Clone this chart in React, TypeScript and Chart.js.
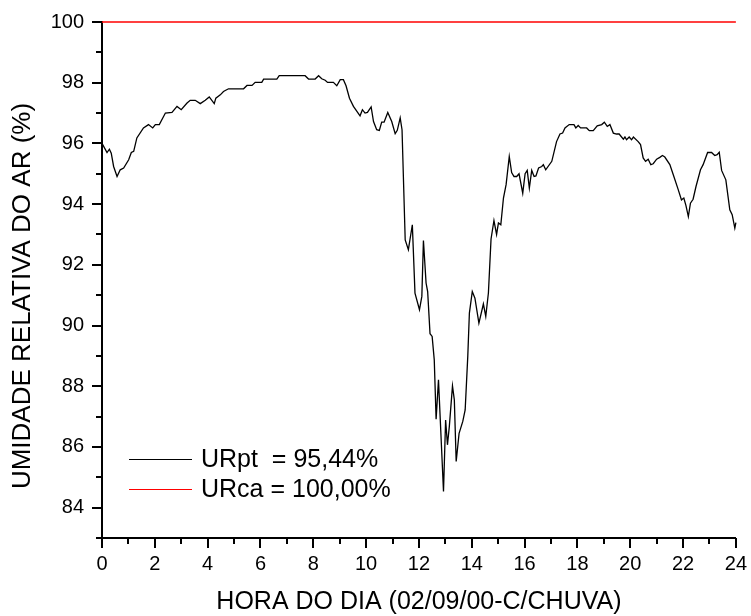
import React, { useEffect, useRef } from 'react';
import { Chart, registerables } from 'chart.js';

Chart.register(...registerables);

// ---- data ----
const hours = [
  0.00, 0.19, 0.28, 0.35, 0.44, 0.57, 0.69, 0.82, 1.01, 1.11,
  1.20, 1.32, 1.57, 1.76, 1.92, 2.02, 2.17, 2.40, 2.65, 2.84,
  3.00, 3.22, 3.34, 3.53, 3.72, 3.91, 4.06, 4.25, 4.31, 4.48,
  4.60, 4.79, 5.36, 5.49, 5.68, 5.80, 6.05, 6.12, 6.62, 6.71,
  7.69, 7.82, 8.07, 8.20, 8.32, 8.45, 8.54, 8.76, 8.89, 9.02,
  9.14, 9.24, 9.37, 9.52, 9.77, 9.86, 9.96, 10.05, 10.19, 10.28,
  10.40, 10.50, 10.59, 10.68, 10.82, 10.97, 11.10, 11.18, 11.29, 11.36,
  11.48, 11.60, 11.75, 11.85, 12.02, 12.11, 12.17, 12.27, 12.33, 12.42,
  12.50, 12.58, 12.65, 12.74, 12.93, 13.01, 13.08, 13.15, 13.27, 13.34,
  13.41, 13.52, 13.66, 13.75, 13.85, 13.91, 14.02, 14.12, 14.27, 14.44,
  14.53, 14.63, 14.73, 14.84, 14.94, 15.01, 15.10, 15.20, 15.30, 15.42,
  15.51, 15.60, 15.70, 15.79, 15.93, 16.02, 16.10, 16.18, 16.27, 16.36,
  16.43, 16.53, 16.65, 16.71, 16.80, 17.03, 17.21, 17.34, 17.44, 17.53,
  17.69, 17.87, 17.94, 18.03, 18.12, 18.35, 18.45, 18.60, 18.75, 18.92,
  19.02, 19.13, 19.23, 19.36, 19.48, 19.58, 19.74, 19.80, 19.86, 19.96,
  20.05, 20.12, 20.30, 20.39, 20.49, 20.58, 20.68, 20.78, 20.87, 21.00,
  21.12, 21.22, 21.31, 21.50, 21.63, 21.82, 21.94, 22.03, 22.11, 22.20,
  22.28, 22.38, 22.49, 22.66, 22.76, 22.93, 23.08, 23.20, 23.29, 23.37,
  23.46, 23.62, 23.77, 23.86, 23.96, 24.00,
];

const urpt = [
  96.00, 95.70, 95.81, 95.68, 95.24, 94.91, 95.13, 95.19, 95.46, 95.70,
  95.74, 96.18, 96.51, 96.62, 96.51, 96.62, 96.62, 97.00, 97.02, 97.22,
  97.11, 97.33, 97.42, 97.42, 97.31, 97.42, 97.53, 97.31, 97.49, 97.60,
  97.71, 97.80, 97.80, 97.91, 97.91, 98.01, 98.01, 98.12, 98.12, 98.23,
  98.23, 98.12, 98.12, 98.23, 98.13, 98.08, 98.01, 98.01, 97.90, 98.10,
  98.10, 97.90, 97.49, 97.22, 96.91, 97.11, 97.00, 97.02, 97.20, 96.72,
  96.45, 96.43, 96.70, 96.70, 97.02, 96.72, 96.32, 96.43, 96.84, 96.45,
  92.82, 92.50, 93.32, 91.07, 90.52, 90.96, 92.80, 91.40, 91.12, 89.73,
  89.64, 88.87, 86.91, 88.21, 84.53, 86.89, 86.07, 86.67, 88.01, 87.55,
  85.52, 86.45, 86.84, 87.22, 89.00, 90.41, 91.12, 90.90, 90.08, 90.71,
  90.30, 91.07, 92.85, 93.46, 93.00, 93.38, 93.32, 94.20, 94.64, 95.57,
  95.04, 94.91, 94.91, 95.00, 94.36, 95.00, 95.11, 94.53, 95.11, 94.91,
  94.93, 95.19, 95.24, 95.30, 95.13, 95.41, 96.06, 96.31, 96.34, 96.51,
  96.62, 96.62, 96.51, 96.59, 96.51, 96.51, 96.42, 96.42, 96.58, 96.62,
  96.70, 96.56, 96.62, 96.34, 96.31, 96.31, 96.14, 96.21, 96.12, 96.21,
  96.12, 96.21, 96.06, 95.96, 95.52, 95.41, 95.48, 95.30, 95.33, 95.48,
  95.54, 95.60, 95.55, 95.30, 94.97, 94.47, 94.14, 94.20, 93.95, 93.59,
  94.03, 94.16, 94.58, 95.13, 95.30, 95.70, 95.70, 95.60, 95.63, 95.71,
  95.11, 94.80, 93.81, 93.65, 93.21, 93.39,
];

const urcaHours = [0, 24];
const urca = [100, 100];

const seriesLabels = ['URpt  = 95,44%', 'URca = 100,00%'];
const seriesColors = ['#000000', '#ff0000'];

const xTitle = 'HORA DO DIA (02/09/00-C/CHUVA)';
const yTitle = 'UMIDADE RELATIVA DO AR (%)';

const xRange = [0, 24];
const yRange = [83, 100];

const FONT = '"Liberation Sans", Arial, Helvetica, sans-serif';

const decorPlugin = {
  id: 'decor',
  afterDraw(chart: any) {
    const ctx = chart.ctx;
    const { left, bottom } = chart.chartArea;
    const xs = chart.scales.x;
    const ys = chart.scales.y;
    ctx.save();
    ctx.strokeStyle = '#000';
    ctx.lineWidth = 2;
    // y ticks (major on even values, minor on odd)
    for (const t of ys.ticks) {
      const p = Math.round(ys.getPixelForValue(t.value));
      const len = t.value % 2 === 0 ? 10 : 6;
      ctx.beginPath();
      ctx.moveTo(left - len, p);
      ctx.lineTo(left, p);
      ctx.stroke();
    }
    // x ticks
    for (const t of xs.ticks) {
      const p = Math.round(xs.getPixelForValue(t.value));
      const len = t.value % 2 === 0 ? 10 : 6;
      ctx.beginPath();
      ctx.moveTo(p, bottom);
      ctx.lineTo(p, bottom + len);
      ctx.stroke();
    }
    // y title
    ctx.fillStyle = '#000';
    ctx.font = `26px ${FONT}`;
    ctx.textAlign = 'center';
    ctx.textBaseline = 'middle';
    ctx.save();
    ctx.translate(22.5, 296);
    ctx.rotate(-Math.PI / 2);
    ctx.fillText(yTitle, 0, 0);
    ctx.restore();
    // legend (inside plot, lower left)
    const lx0 = 129;
    const lx1 = 192;
    const ly = [459, 489];
    ctx.font = `25px ${FONT}`;
    ctx.textAlign = 'left';
    chart.data.datasets.forEach((ds: any, i: number) => {
      ctx.strokeStyle = ds.borderColor;
      ctx.lineWidth = 1.2;
      ctx.beginPath();
      ctx.moveTo(lx0, ly[i] + 0.5);
      ctx.lineTo(lx1, ly[i] + 0.5);
      ctx.stroke();
      ctx.fillStyle = '#000';
      ctx.fillText(ds.label, 201, ly[i] + 1);
    });
    ctx.restore();
  },
};

export default function App() {
  const ref = useRef<HTMLCanvasElement>(null);
  useEffect(() => {
    if (!ref.current) return;
    const chart = new Chart(ref.current, {
      type: 'line',
      data: {
        datasets: [
          {
            label: seriesLabels[0],
            data: hours.map((h, i) => ({ x: h, y: urpt[i] })),
            borderColor: seriesColors[0],
            backgroundColor: seriesColors[0],
            borderWidth: 1.3,
            pointRadius: 0,
            tension: 0,
            fill: false,
            clip: false as any,
          },
          {
            label: seriesLabels[1],
            data: urcaHours.map((h, i) => ({ x: h, y: urca[i] })),
            borderColor: seriesColors[1],
            backgroundColor: seriesColors[1],
            borderWidth: 1.5,
            pointRadius: 0,
            tension: 0,
            fill: false,
            clip: false as any,
          },
        ],
      },
      options: {
        responsive: false,
        animation: false,
        events: [],
        layout: { padding: { left: 0, top: 22, right: 15, bottom: 0 } },
        plugins: {
          legend: { display: false },
          tooltip: { enabled: false },
          title: { display: false },
        },
        scales: {
          x: {
            type: 'linear',
            min: xRange[0],
            max: xRange[1],
            grid: {
              display: true,
              drawOnChartArea: false,
              drawTicks: true,
              tickLength: 10,
              tickColor: 'rgba(0,0,0,0)',
            },
            border: { display: true, color: '#000', width: 2 },
            ticks: {
              stepSize: 1,
              autoSkip: false,
              maxRotation: 0,
              padding: 4,
              color: '#000',
              font: { family: FONT, size: 20 },
              callback: (v: any) => (Number(v) % 2 === 0 ? String(v) : ''),
            },
            title: {
              display: true,
              text: xTitle,
              color: '#000',
              font: { family: FONT, size: 25, lineHeight: 1 },
              padding: { top: 0, bottom: 1 },
            },
            afterFit: (s: any) => {
              s.height = 78;
            },
          },
          y: {
            type: 'linear',
            min: yRange[0],
            max: yRange[1],
            grid: {
              display: true,
              drawOnChartArea: false,
              drawTicks: true,
              tickLength: 10,
              tickColor: 'rgba(0,0,0,0)',
            },
            border: { display: true, color: '#000', width: 2 },
            ticks: {
              stepSize: 1,
              autoSkip: false,
              padding: 8,
              color: '#000',
              font: { family: FONT, size: 20 },
              callback: (v: any) => (Number(v) % 2 === 0 ? String(v) : ''),
            },
            afterFit: (s: any) => {
              s.width = 102;
            },
          },
        },
      },
      plugins: [decorPlugin],
    } as any);
    return () => chart.destroy();
  }, []);
  return (
    <div style={{ position: 'absolute', left: 0, top: 0, width: 751, height: 616, background: '#fff' }}>
      <canvas ref={ref} width={751} height={616} style={{ width: 751, height: 616, display: 'block' }} />
    </div>
  );
}
